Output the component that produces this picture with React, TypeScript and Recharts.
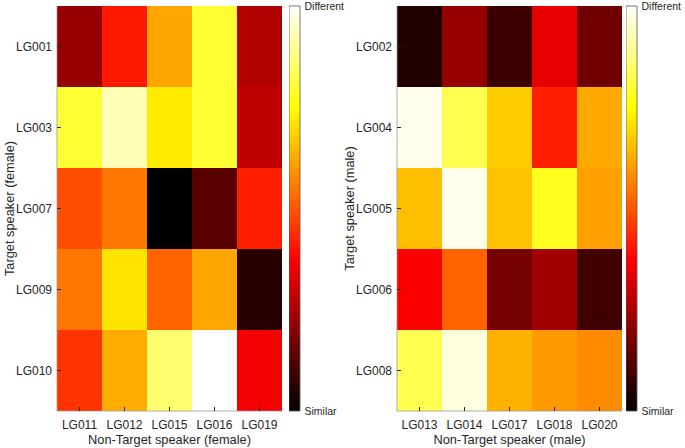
import { BarChart, Bar, XAxis, YAxis, Cell } from "recharts";

const femaleRows = ["LG001", "LG003", "LG007", "LG009", "LG010"];
const femaleCols = ["LG011", "LG012", "LG015", "LG016", "LG019"];
const femaleValues = [
  [0.22, 0.41, 0.62, 0.8, 0.26],
  [0.8, 0.93, 0.72, 0.8, 0.28],
  [0.49, 0.55, 0.0, 0.13, 0.42],
  [0.55, 0.71, 0.52, 0.62, 0.06],
  [0.45, 0.63, 0.86, 1.0, 0.36],
];

const maleRows = ["LG002", "LG004", "LG005", "LG006", "LG008"];
const maleCols = ["LG013", "LG014", "LG017", "LG018", "LG020"];
const maleValues = [
  [0.05, 0.22, 0.09, 0.34, 0.165],
  [0.98, 0.83, 0.675, 0.42, 0.625],
  [0.655, 0.98, 0.66, 0.78, 0.61],
  [0.37, 0.52, 0.17, 0.235, 0.095],
  [0.83, 0.97, 0.635, 0.6, 0.58],
];

const colorbarTicks = ["Similar", "Different"];

const FONT = "'Liberation Sans', Arial, sans-serif";
const INK = "#262626";
const FRAME = "#9a9a9a";

// matlab "hot" colormap
function hot(t: number) {
  const clamp = (v: number) => Math.max(0, Math.min(1, v));
  const r = clamp(t / 0.375);
  const g = clamp((t - 0.375) / 0.375);
  const b = clamp((t - 0.75) / 0.25);
  return `rgb(${Math.round(r * 255)},${Math.round(g * 255)},${Math.round(b * 255)})`;
}

interface HeatmapProps {
  rows: string[];
  cols: string[];
  values: number[][];
  xTitle: string;
  yTitle: string;
  left: number;
}

function Heatmap({ rows, cols, values, xTitle, yTitle, left }: HeatmapProps) {
  const data = cols.map((c) => {
    const o: Record<string, string | number> = { name: c };
    rows.forEach((_, i) => (o[`r${i}`] = 1));
    return o;
  });
  const rowTicks = rows.map((_, i) => i + 0.5);

  return (
    <div style={{ position: "absolute", left, top: 0 }}>
      <BarChart
        width={290}
        height={448}
        data={data}
        margin={{ top: 6, right: 8, bottom: 0, left: 0 }}
        barCategoryGap={0}
        barGap={0}
        style={{ fontFamily: FONT }}
      >
        <XAxis
          dataKey="name"
          height={37}
          tickSize={-4}
          tickMargin={13}
          tick={{ fill: INK, fontSize: 12 }}
          tickLine={{ stroke: INK }}
          axisLine={{ stroke: FRAME, strokeWidth: 0.8 }}
          label={{
            value: xTitle,
            position: "insideBottom",
            offset: 4.5,
            fill: INK,
            fontSize: 12.8,
          }}
        />
        <XAxis
          xAxisId="top"
          dataKey="name"
          orientation="top"
          height={0}
          tick={false}
          tickSize={-4}
          tickLine={{ stroke: INK }}
          axisLine={{ stroke: FRAME, strokeWidth: 0.8 }}
        />
        <YAxis
          type="number"
          domain={[0, rows.length]}
          reversed
          ticks={rowTicks}
          width={57}
          tickSize={-4}
          tickMargin={9}
          interval={0}
          tick={{ fill: INK, fontSize: 12 }}
          tickLine={{ stroke: INK }}
          tickFormatter={(v: number) => rows[Math.floor(v)]}
          axisLine={{ stroke: FRAME, strokeWidth: 0.8 }}
          label={{
            value: yTitle,
            angle: -90,
            position: "insideLeft",
            offset: 9.5,
            fill: INK,
            fontSize: 12.8,
            style: { textAnchor: "middle" },
          }}
        />
        <YAxis
          yAxisId="right"
          orientation="right"
          type="number"
          domain={[0, rows.length]}
          reversed
          ticks={rowTicks}
          width={0}
          tick={false}
          tickSize={-4}
          tickLine={{ stroke: INK }}
          axisLine={{ stroke: FRAME, strokeWidth: 0.8 }}
        />
        {rows.map((r, i) => (
          <Bar
            key={r}
            dataKey={`r${i}`}
            stackId="cells"
            isAnimationActive={false}
          >
            {cols.map((c, j) => (
              <Cell key={c} fill={hot(values[i][j])} shapeRendering="crispEdges" />
            ))}
          </Bar>
        ))}
      </BarChart>
    </div>
  );
}

function Colorbar({ left, gradId }: { left: number; gradId: string }) {
  const data = [{ name: "cb", v: 1 }];
  return (
    <div style={{ position: "absolute", left, top: 0 }}>
      <BarChart
        width={60}
        height={448}
        data={data}
        margin={{ top: 6, right: 0, bottom: 37, left: 0 }}
        barCategoryGap={0}
        style={{ fontFamily: FONT }}
      >
        <defs>
          <linearGradient id={gradId} x1="0" y1="1" x2="0" y2="0">
            <stop offset="0" stopColor="#000000" />
            <stop offset="0.375" stopColor="#ff0000" />
            <stop offset="0.75" stopColor="#ffff00" />
            <stop offset="1" stopColor="#ffffff" />
          </linearGradient>
        </defs>
        <XAxis dataKey="name" hide />
        <YAxis
          orientation="right"
          type="number"
          domain={[0, 1]}
          ticks={[0, 1]}
          width={49}
          tickSize={0}
          tickMargin={4.5}
          axisLine={false}
          tick={{ fill: INK, fontSize: 10.5 }}
          tickFormatter={(v: number) => colorbarTicks[v]}
        />
        <Bar
          dataKey="v"
          fill={`url(#${gradId})`}
          stroke="#555"
          strokeWidth={0.8}
          isAnimationActive={false}
        />
      </BarChart>
    </div>
  );
}

export default function App() {
  return (
    <div
      style={{
        position: "absolute",
        left: 0,
        top: 0,
        width: 685,
        height: 448,
        background: "#fff",
        fontFamily: FONT,
      }}
    >
      <Heatmap
        rows={femaleRows}
        cols={femaleCols}
        values={femaleValues}
        xTitle="Non-Target speaker (female)"
        yTitle="Target speaker (female)"
        left={0}
      />
      <Colorbar left={289} gradId="hotLeft" />
      <Heatmap
        rows={maleRows}
        cols={maleCols}
        values={maleValues}
        xTitle="Non-Target speaker (male)"
        yTitle="Target speaker (male)"
        left={340}
      />
      <Colorbar left={626} gradId="hotRight" />
    </div>
  );
}
